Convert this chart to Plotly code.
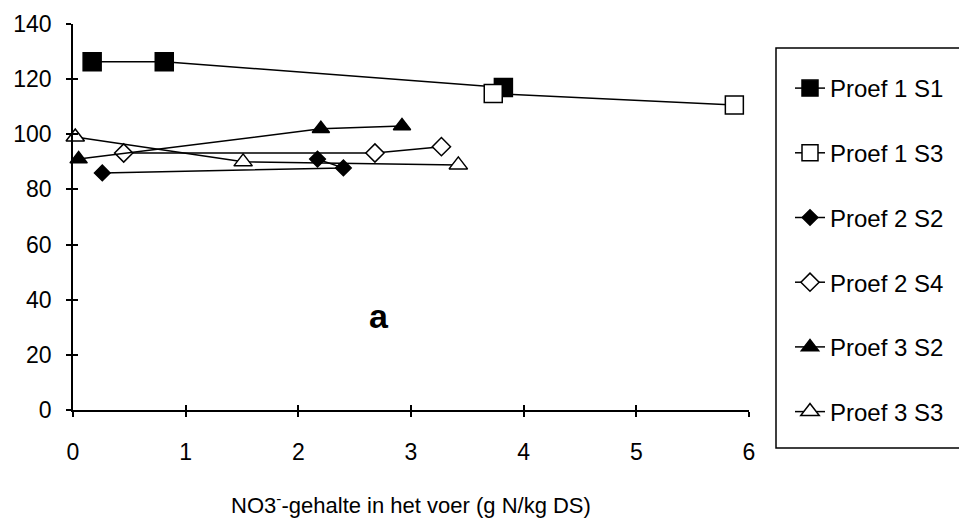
import plotly.graph_objects as go

# NO3- content in the feed (g N/kg DS) and measured response per trial/series
p1_s1_x = [0.17, 0.81, 3.82]
p1_s1_y = [126.3, 126.3, 117.0]

p1_s3_x = [3.73, 5.87]
p1_s3_y = [114.8, 110.6]

p2_s2_x = [0.26, 2.40, 2.17]
p2_s2_y = [86.0, 87.8, 91.0]

p2_s4_x = [0.45, 2.68, 3.27]
p2_s4_y = [93.2, 93.2, 95.5]

p3_s2_x = [0.05, 2.20, 2.92]
p3_s2_y = [91.0, 102.0, 103.0]

p3_s3_x = [0.02, 1.51, 3.42]
p3_s3_y = [99.0, 90.0, 88.9]

series_names = ["Proef 1 S1", "Proef 1 S3", "Proef 2 S2",
                "Proef 2 S4", "Proef 3 S2", "Proef 3 S3"]

x_ticks = [0, 1, 2, 3, 4, 5, 6]
y_ticks = [0, 20, 40, 60, 80, 100, 120, 140]

FONT = "Liberation Sans, Arial, Helvetica, sans-serif"
BLACK = "black"

series = [
    (p1_s1_x, p1_s1_y, "square", BLACK, 18),
    (p1_s3_x, p1_s3_y, "square", "white", 18),
    (p2_s2_x, p2_s2_y, "diamond", BLACK, 12),
    (p2_s4_x, p2_s4_y, "diamond", "white", 14),
    (p3_s2_x, p3_s2_y, "triangle-up", BLACK, 15),
    (p3_s3_x, p3_s3_y, "triangle-up", "white", 16),
]

fig = go.Figure()
for i, (xs, ys, sym, fill, size) in enumerate(series):
    fig.add_trace(go.Scatter(
        x=xs, y=ys, name=series_names[i], mode="lines+markers",
        legendgroup=series_names[i],
        line=dict(color=BLACK, width=1.5),
        marker=dict(symbol=sym, size=size, color=fill,
                    line=dict(color=BLACK, width=1.5)),
        cliponaxis=False,
    ))

# invisible trace on the overlay axes so the inner halves of the ticks are drawn
fig.add_trace(go.Scatter(x=[None], y=[None], xaxis="x2", yaxis="y2",
                         showlegend=False, hoverinfo="skip"))

axis_font = dict(family=FONT, size=23, color=BLACK)

fig.update_layout(
    width=959, height=518,
    margin=dict(l=73, r=210, t=24, b=108, autoexpand=False),
    paper_bgcolor="white", plot_bgcolor="white",
    font=dict(family=FONT, color=BLACK),
    xaxis=dict(
        range=[0, 6], tickvals=x_ticks, ticktext=[str(v) for v in x_ticks],
        showline=True, linecolor=BLACK, linewidth=1.5,
        ticks="outside", ticklen=5, tickwidth=1.5, tickcolor=BLACK,
        showgrid=False, zeroline=False, tickfont=axis_font,
        ticklabelstandoff=16, automargin=False,
        title=dict(text="NO3<sup>-</sup>-gehalte in het voer (g N/kg DS)",
                   font=dict(family=FONT, size=22, color=BLACK), standoff=42),
    ),
    yaxis=dict(
        range=[0, 140], tickvals=y_ticks, ticktext=[str(v) for v in y_ticks],
        showline=True, linecolor=BLACK, linewidth=1.5,
        ticks="outside", ticklen=5, tickwidth=1.5, tickcolor=BLACK,
        showgrid=False, zeroline=False, tickfont=axis_font,
        ticklabelstandoff=10, automargin=False,
    ),
    xaxis2=dict(overlaying="x", range=[0, 6], tickvals=x_ticks,
                ticks="inside", ticklen=5, tickwidth=1.5, tickcolor=BLACK,
                showticklabels=False, showline=False, showgrid=False,
                zeroline=False),
    yaxis2=dict(overlaying="y", range=[0, 140], tickvals=y_ticks,
                ticks="inside", ticklen=5, tickwidth=1.5, tickcolor=BLACK,
                showticklabels=False, showline=False, showgrid=False,
                zeroline=False),
    showlegend=True,
    legend=dict(
        x=(790 - 73) / 676, xanchor="left",
        y=(410 - 66) / 386, yanchor="top",
        font=dict(family=FONT, size=24, color=BLACK),
        traceorder="grouped", tracegroupgap=30.5,
        bgcolor="rgba(0,0,0,0)", borderwidth=0,
        itemwidth=30, maxheight=480,
    ),
    shapes=[dict(type="rect", xref="paper", yref="paper",
                 x0=(776 - 73) / 676, x1=1.45,
                 y0=(410 - 448) / 386, y1=(410 - 48) / 386,
                 line=dict(color=BLACK, width=1.5), fillcolor="rgba(0,0,0,0)")],
    annotations=[dict(x=2.72, y=34.0, xref="x", yref="y", text="<b>a</b>",
                      showarrow=False,
                      font=dict(family=FONT, size=34, color=BLACK))],
)

fig.write_html("out.html")
